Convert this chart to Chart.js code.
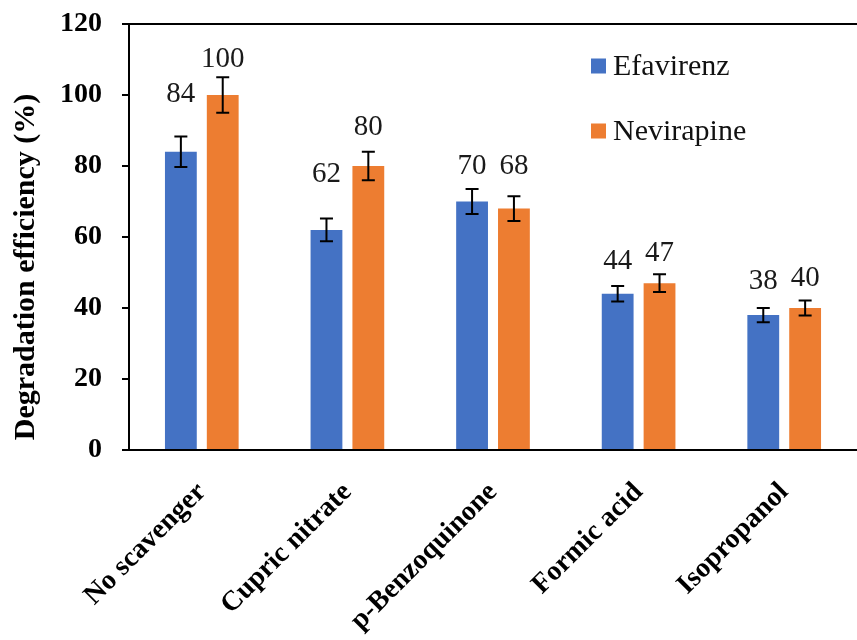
<!DOCTYPE html>
<html>
<head>
<meta charset="utf-8">
<script src="https://cdn.jsdelivr.net/npm/chart.js@4.4.1/dist/chart.umd.min.js"></script>
<style>
  html, body { margin: 0; padding: 0; background: #ffffff; }
  #wrap { width: 857px; height: 640px; }
</style>
</head>
<body>
<div id="wrap"><canvas id="chart" width="857" height="640"></canvas></div>
<script>
// Scavenger conditions tested
const categories = ['No scavenger', 'Cupric nitrate', 'p-Benzoquinone', 'Formic acid', 'Isopropanol'];

// Degradation efficiency (%) and standard deviations
const efavirenz = [84, 62, 70, 44, 38];
const efavirenzErr = [4.3, 3.2, 3.5, 2.2, 2.0];
const nevirapine = [100, 80, 68, 47, 40];
const nevirapineErr = [5.0, 4.0, 3.5, 2.5, 2.1];

// Y axis range and labelled tick spacing
const yMin = 0;
const yMax = 120;
const yMinorStep = 10;
const yLabelStep = 20;

const SERIF = '"Liberation Serif", "Times New Roman", Times, serif';

// Error bars drawn on top of each bar
const errorBarPlugin = {
  id: 'errorBars',
  afterDatasetsDraw(chart, args, opts) {
    const { ctx } = chart;
    const y = chart.scales.y;
    ctx.save();
    ctx.strokeStyle = opts.color;
    ctx.lineWidth = opts.lineWidth;
    chart.data.datasets.forEach((ds, di) => {
      const meta = chart.getDatasetMeta(di);
      meta.data.forEach((bar, i) => {
        const v = ds.data[i];
        const e = ds.errors[i];
        const top = y.getPixelForValue(v + e);
        const bot = y.getPixelForValue(v - e);
        const x = bar.x;
        ctx.beginPath();
        ctx.moveTo(x, top); ctx.lineTo(x, bot);
        ctx.moveTo(x - opts.cap, top); ctx.lineTo(x + opts.cap, top);
        ctx.moveTo(x - opts.cap, bot); ctx.lineTo(x + opts.cap, bot);
        ctx.stroke();
      });
    });
    ctx.restore();
  }
};

// Value labels above the error bars
const valueLabelPlugin = {
  id: 'valueLabels',
  afterDatasetsDraw(chart, args, opts) {
    const { ctx } = chart;
    const y = chart.scales.y;
    ctx.save();
    ctx.font = opts.font;
    ctx.fillStyle = opts.color;
    ctx.textAlign = 'center';
    ctx.textBaseline = 'middle';
    chart.data.datasets.forEach((ds, di) => {
      const meta = chart.getDatasetMeta(di);
      const lifts = opts.lift[di];
      meta.data.forEach((bar, i) => {
        const v = ds.data[i];
        const top = y.getPixelForValue(v + ds.errors[i]);
        ctx.fillText(String(v), bar.x, top - lifts[i]);
      });
    });
    ctx.restore();
  }
};

// Vertical legend inside the plot, top border and y-axis title
const decorPlugin = {
  id: 'decor',
  afterDraw(chart, args, opts) {
    const { ctx, chartArea } = chart;
    ctx.save();
    // top frame line
    ctx.strokeStyle = '#000000';
    ctx.lineWidth = 2;
    ctx.beginPath();
    ctx.moveTo(chartArea.left, chartArea.top);
    ctx.lineTo(chart.width, chartArea.top);
    ctx.stroke();

    // legend
    ctx.font = opts.legendFont;
    ctx.textAlign = 'left';
    ctx.textBaseline = 'middle';
    chart.data.datasets.forEach((ds, di) => {
      const bx = chartArea.left + opts.legendX;
      const cy = chartArea.top + opts.legendY + di * opts.legendGap;
      ctx.fillStyle = ds.backgroundColor;
      ctx.fillRect(bx, cy - opts.box / 2, opts.box, opts.box);
      ctx.fillStyle = '#111111';
      ctx.fillText(ds.label, bx + opts.box + 7, cy + 1);
    });

    // y-axis title
    ctx.font = opts.titleFont;
    ctx.fillStyle = '#000000';
    ctx.textAlign = 'center';
    ctx.textBaseline = 'middle';
    ctx.translate(opts.titleX, (chartArea.top + chartArea.bottom) / 2 + opts.titleShift);
    ctx.rotate(-Math.PI / 2);
    ctx.fillText(opts.title, 0, 0);
    ctx.restore();
  }
};

new Chart(document.getElementById('chart'), {
  type: 'bar',
  data: {
    labels: categories,
    datasets: [
      { label: 'Efavirenz', data: efavirenz, errors: efavirenzErr,
        backgroundColor: '#4472C4', barPercentage: 0.76, categoryPercentage: 0.575 },
      { label: 'Nevirapine', data: nevirapine, errors: nevirapineErr,
        backgroundColor: '#ED7D31', barPercentage: 0.76, categoryPercentage: 0.575 }
    ]
  },
  options: {
    responsive: false,
    animation: false,
    layout: { padding: { top: 24, right: 0, left: 0, bottom: 0 } },
    plugins: {
      legend: { display: false },
      tooltip: { enabled: false },
      errorBars: { color: '#000000', lineWidth: 2, cap: 6.5 },
      valueLabels: {
        font: '29px ' + SERIF, color: '#1a1a1a',
        lift: [[42, 44, 23, 25, 27], [18, 24, 30, 21, 22]]
      },
      decor: {
        legendFont: '30px ' + SERIF, legendX: 462, legendY: 42, legendGap: 65, box: 15,
        titleFont: 'bold 30px ' + SERIF, title: 'Degradation efficiency (%)',
        titleX: 26, titleShift: 30
      }
    },
    scales: {
      x: {
        offset: true,
        grid: { display: false, drawOnChartArea: false, drawTicks: false },
        border: { display: true, color: '#000000', width: 2 },
        ticks: {
          autoSkip: false, minRotation: 45, maxRotation: 45, padding: 26,
          color: '#000000', font: { family: SERIF, size: 28, weight: 'bold' }
        },
        afterFit(scale) {
          scale.height = 190;
          scale.paddingLeft = 0;
          scale.paddingRight = 0;
        }
      },
      y: {
        min: yMin, max: yMax,
        grid: { drawOnChartArea: false, drawTicks: true, tickLength: 7, color: '#000000', lineWidth: 2 },
        border: { display: true, color: '#000000', width: 2 },
        ticks: {
          stepSize: yMinorStep, padding: 20, color: '#000000',
          font: { family: SERIF, size: 28, weight: 'bold' },
          callback: (v) => (v % yLabelStep === 0 ? v : '')
        },
        afterFit(scale) {
          scale.width = 129;
          scale.paddingTop = 0;
          scale.paddingBottom = 0;
        }
      }
    }
  },
  plugins: [errorBarPlugin, valueLabelPlugin, decorPlugin]
});
</script>
</body>
</html>
